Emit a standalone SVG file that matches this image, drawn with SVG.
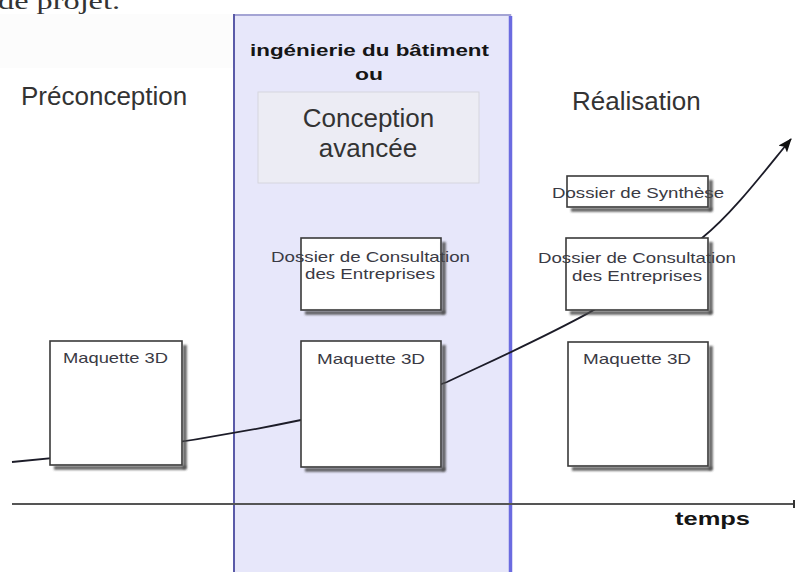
<svg xmlns="http://www.w3.org/2000/svg" width="795" height="572" viewBox="0 0 795 572">
  <style>
    .big { font-family: "Liberation Sans", Arial, sans-serif; font-size: 26px; fill: #333333; }
    .hdr { font-family: "Liberation Sans", Arial, sans-serif; font-size: 17px; font-weight: bold; fill: #151515; }
    .lbl { font-family: "Liberation Sans", Arial, sans-serif; font-size: 15px; fill: #3a3a44; }
    .boxfill { fill: #ffffff; stroke: none; }
    .boxline { fill: none; stroke: #3a3a3a; stroke-width: 1.6; }
    .shadow { fill: #4a4a4a; opacity: 0.85; filter: url(#blur); }
    .conn { fill: none; stroke: #1c1c28; stroke-width: 1.8; }
  </style>
  <defs>
    <filter id="blur" x="-50%" y="-50%" width="200%" height="200%">
      <feGaussianBlur stdDeviation="0.8"/>
    </filter>
    <marker id="arrow" markerUnits="userSpaceOnUse" markerWidth="16" markerHeight="12" refX="13" refY="5.5" orient="auto">
      <path d="M0,0 L14,5.5 L0,11 L3,5.5 z" fill="#111111"/>
    </marker>
  </defs>

  <rect x="0" y="0" width="795" height="572" fill="#ffffff"/>
  <rect x="0" y="14" width="233" height="54" fill="#fcfcfc"/>

  <text x="-2" y="9" font-family="'Liberation Serif', 'Times New Roman', serif" font-size="24" fill="#333333" textLength="122" lengthAdjust="spacingAndGlyphs">de projet.</text>

  <!-- band -->
  <g id="band">
    <rect x="233" y="14" width="279" height="560" fill="#e7e7fa"/>
    <line x1="233" y1="15" x2="511" y2="15" stroke="#a4a4d4" stroke-width="2"/>
    <line x1="234" y1="14" x2="234" y2="572" stroke="#5a5aa8" stroke-width="2"/>
    <line x1="510.5" y1="16" x2="510.5" y2="572" stroke="#6b6be0" stroke-width="3.5"/>
    <text class="hdr" x="250" y="56" textLength="239" lengthAdjust="spacingAndGlyphs">ingénierie du bâtiment</text>
    <text class="hdr" x="355" y="80" textLength="28" lengthAdjust="spacingAndGlyphs">ou</text>
  </g>

  <g id="conception-avancee">
    <rect x="258" y="92" width="221" height="91" fill="#ececf4" stroke="#d6d6de" stroke-width="1"/>
    <text class="big" x="368.5" y="127" text-anchor="middle">Conception</text>
    <text class="big" x="368" y="157" text-anchor="middle">avancée</text>
  </g>

  <g id="preconception">
    <text class="big" x="21" y="105">Préconception</text>
  </g>
  <g id="realisation">
    <text class="big" x="572" y="110">Réalisation</text>
  </g>

  <!-- axis -->
  <g id="axis">
    <line x1="12" y1="504" x2="795" y2="504" stroke="#555555" stroke-width="2"/>
    <line x1="794" y1="500" x2="794" y2="508" stroke="#333333" stroke-width="2"/>
    <text class="hdr" x="675" y="525" textLength="75" lengthAdjust="spacingAndGlyphs" style="font-size:18px">temps</text>
  </g>

  <!-- connector -->
  <g id="connectors">
    <path class="conn" d="M12,462 C108,454 205,440 301,420 C350,409 398,401 447,382 C532,342 617,306 702,238 C732,214 763,173 791,139" marker-end="url(#arrow)"/>
  </g>

  <!-- nodes -->
  <g id="maquette-pre">
    <rect class="boxfill" x="50" y="341" width="132" height="124"/>
    <text class="lbl" x="63" y="363" textLength="105" lengthAdjust="spacingAndGlyphs">Maquette 3D</text>
    <rect class="boxline" x="50" y="341" width="132" height="124"/>
    <rect class="shadow" x="182.8" y="345" width="4" height="124"/>
    <rect class="shadow" x="54" y="465.8" width="132" height="4"/>
  </g>

  <g id="dce-ing">
    <rect class="boxfill" x="301" y="238" width="140" height="72"/>
    <text class="lbl" x="271" y="262" textLength="199" lengthAdjust="spacingAndGlyphs">Dossier de Consultation</text>
    <text class="lbl" x="305" y="279" textLength="130" lengthAdjust="spacingAndGlyphs">des Entreprises</text>
    <rect class="boxline" x="301" y="238" width="140" height="72"/>
    <rect class="shadow" x="441.8" y="242" width="4" height="72"/>
    <rect class="shadow" x="305" y="310.8" width="140" height="4"/>
  </g>

  <g id="maquette-ing">
    <rect class="boxfill" x="301" y="341" width="140" height="126"/>
    <text class="lbl" x="317" y="364" textLength="108" lengthAdjust="spacingAndGlyphs">Maquette 3D</text>
    <rect class="boxline" x="301" y="341" width="140" height="126"/>
    <rect class="shadow" x="441.8" y="345" width="4" height="126"/>
    <rect class="shadow" x="305" y="467.8" width="140" height="4"/>
  </g>

  <g id="synthese">
    <rect class="boxfill" x="567" y="176" width="141" height="31"/>
    <text class="lbl" x="552" y="198" textLength="172" lengthAdjust="spacingAndGlyphs">Dossier de Synthèse</text>
    <rect class="boxline" x="567" y="176" width="141" height="31"/>
    <rect class="shadow" x="708.8" y="180" width="4" height="31"/>
    <rect class="shadow" x="571" y="207.8" width="141" height="4"/>
  </g>

  <g id="dce-real">
    <rect class="boxfill" x="566" y="238" width="142" height="72"/>
    <text class="lbl" x="538" y="263" textLength="198" lengthAdjust="spacingAndGlyphs">Dossier de Consultation</text>
    <text class="lbl" x="572" y="281" textLength="130" lengthAdjust="spacingAndGlyphs">des Entreprises</text>
    <rect class="boxline" x="566" y="238" width="142" height="72"/>
    <rect class="shadow" x="708.8" y="242" width="4" height="72"/>
    <rect class="shadow" x="570" y="310.8" width="142" height="4"/>
  </g>

  <g id="maquette-real">
    <rect class="boxfill" x="568" y="342" width="140" height="124"/>
    <text class="lbl" x="583" y="364" textLength="108" lengthAdjust="spacingAndGlyphs">Maquette 3D</text>
    <rect class="boxline" x="568" y="342" width="140" height="124"/>
    <rect class="shadow" x="708.8" y="346" width="4" height="124"/>
    <rect class="shadow" x="572" y="466.8" width="140" height="4"/>
  </g>
</svg>
